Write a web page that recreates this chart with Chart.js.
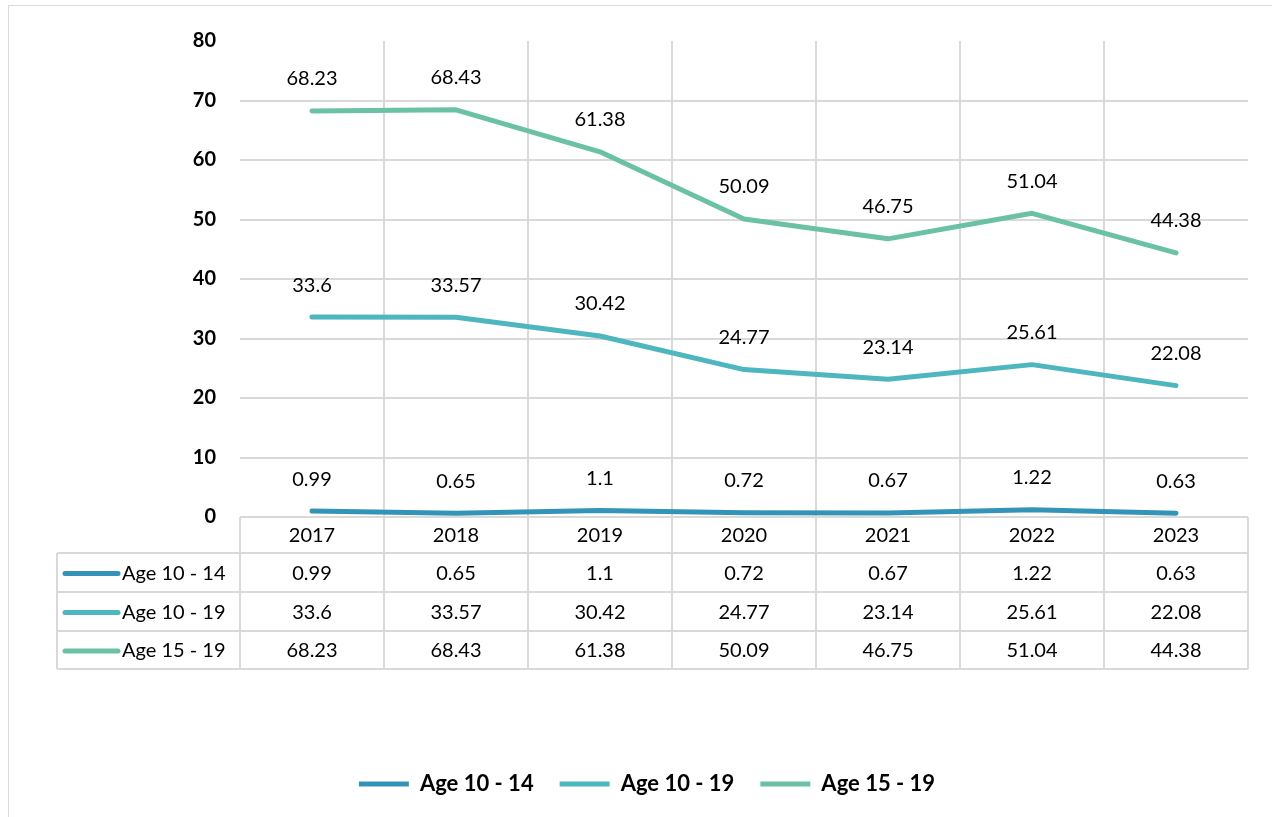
<!DOCTYPE html>
<html>
<head>
<meta charset="utf-8">
<script src="https://cdn.jsdelivr.net/npm/chart.js@4"></script>
<style>
    html, body { margin: 0; padding: 0; background: #fff; }
    #wrap { position: relative; width: 1272px; height: 817px; overflow: hidden; }
    #frame { position: absolute; left: 8px; top: 5px; width: 1300px; height: 900px; border: 1.5px solid #d9d9d9; box-sizing: border-box; }
    canvas { position: absolute; left: 0; top: 0; }
</style>
</head>
<body>
<div id="wrap">
    <div id="frame"></div>
    <canvas id="trendChart" width="1272" height="817"></canvas>
</div>
<script>
const years = ["2017", "2018", "2019", "2020", "2021", "2022", "2023"];
const age10to14 = [0.99, 0.65, 1.1, 0.72, 0.67, 1.22, 0.63];
const age10to19 = [33.6, 33.57, 30.42, 24.77, 23.14, 25.61, 22.08];
const age15to19 = [68.23, 68.43, 61.38, 50.09, 46.75, 51.04, 44.38];
const yTicks = [0, 10, 20, 30, 40, 50, 60, 70, 80];

const seriesNames = ["Age 10 - 14", "Age 10 - 19", "Age 15 - 19"];
const seriesColors = ["#3494b8", "#4db6be", "#6bc1a5"];

const FONT = "Lato, 'Open Sans', sans-serif";
const gridColor = "#d9d9d9";

// value labels above each point
const pointLabels = {
    id: "pointLabels",
    afterDatasetsDraw(chart) {
        const ctx = chart.ctx;
        ctx.save();
        ctx.font = "20px " + FONT;
        ctx.fillStyle = "#000";
        ctx.textAlign = "center";
        ctx.textBaseline = "middle";
        chart.data.datasets.forEach((ds, di) => {
            chart.getDatasetMeta(di).data.forEach((pt, i) => {
                ctx.fillText(String(ds.data[i]), pt.x, pt.y - 32);
            });
        });
        ctx.restore();
    }
};

// data table under the plot
const dataTable = {
    id: "dataTable",
    afterDraw(chart) {
        const ctx = chart.ctx;
        const xs = chart.scales.x;
        const area = chart.chartArea;
        const step = (area.right - area.left) / years.length;
        const tableLeft = 57;
        const rows = [area.bottom, area.bottom + 36, area.bottom + 75, area.bottom + 114, area.bottom + 152];

        ctx.save();
        ctx.strokeStyle = gridColor;
        ctx.lineWidth = 2;
        ctx.beginPath();
        // horizontal lines
        ctx.moveTo(area.left, rows[0]); ctx.lineTo(area.right, rows[0]);
        for (let r = 1; r < rows.length; r++) {
            ctx.moveTo(tableLeft, rows[r]); ctx.lineTo(area.right, rows[r]);
        }
        // vertical lines
        for (let i = 0; i <= years.length; i++) {
            const x = area.left + i * step;
            ctx.moveTo(x, rows[0]); ctx.lineTo(x, rows[4]);
        }
        ctx.moveTo(tableLeft, rows[1]); ctx.lineTo(tableLeft, rows[4]);
        ctx.stroke();

        ctx.font = "20px " + FONT;
        ctx.fillStyle = "#000";
        ctx.textBaseline = "middle";
        ctx.textAlign = "center";
        years.forEach((yr, i) => {
            ctx.fillText(yr, xs.getPixelForValue(i), (rows[0] + rows[1]) / 2 + 1);
        });
        const seriesData = [age10to14, age10to19, age15to19];
        seriesData.forEach((vals, s) => {
            const cy = (rows[s + 1] + rows[s + 2]) / 2 + 1;
            vals.forEach((v, i) => {
                ctx.fillText(String(v), xs.getPixelForValue(i), cy);
            });
            // legend key + name
            ctx.strokeStyle = seriesColors[s];
            ctx.lineWidth = 5;
            ctx.lineCap = "round";
            ctx.beginPath();
            ctx.moveTo(65, cy); ctx.lineTo(118, cy);
            ctx.stroke();
            ctx.textAlign = "left";
            ctx.fillText(seriesNames[s], 122, cy);
            ctx.textAlign = "center";
        });
        ctx.restore();
    }
};

const ctx = document.getElementById("trendChart").getContext("2d");

new Chart(ctx, {
    type: "line",
    data: {
        labels: years,
        datasets: [
            { label: seriesNames[0], data: age10to14, borderColor: seriesColors[0], backgroundColor: seriesColors[0] },
            { label: seriesNames[1], data: age10to19, borderColor: seriesColors[1], backgroundColor: seriesColors[1] },
            { label: seriesNames[2], data: age15to19, borderColor: seriesColors[2], backgroundColor: seriesColors[2] }
        ].map(d => Object.assign(d, {
            borderWidth: 5,
            pointRadius: 0,
            tension: 0,
            borderCapStyle: "round",
            borderJoinStyle: "round",
            pointStyle: "line"
        }))
    },
    options: {
        responsive: false,
        animation: false,
        layout: { padding: { top: 41, left: 46, right: 24, bottom: 12 } },
        plugins: {
            legend: {
                position: "bottom",
                labels: {
                    usePointStyle: true,
                    pointStyle: "line",
                    pointStyleWidth: 50,
                    boxWidth: 50,
                    padding: 26,
                    color: "#000",
                    font: { family: FONT, size: 22, weight: "bold" }
                }
            },
            tooltip: { enabled: false }
        },
        scales: {
            x: {
                offset: true,
                ticks: { display: false },
                border: { display: false },
                grid: {
                    offset: true,
                    drawTicks: false,
                    lineWidth: 2,
                    color: c => (!c.tick || c.index === 0) ? "rgba(0,0,0,0)" : gridColor
                },
                afterFit: scale => { scale.height = 230; }
            },
            y: {
                min: 0,
                max: 80,
                afterBuildTicks: scale => { scale.ticks = yTicks.map(v => ({ value: v })); },
                border: { display: false },
                grid: {
                    drawTicks: false,
                    lineWidth: 2,
                    color: c => (c.tick && c.tick.value === 80) ? "rgba(0,0,0,0)" : gridColor
                },
                ticks: {
                    padding: 24,
                    color: "#000",
                    font: { family: FONT, size: 20, weight: "bold" }
                },
                afterFit: scale => { scale.width = 194; }
            }
        }
    },
    plugins: [pointLabels, dataTable]
});
</script>
</body>
</html>
